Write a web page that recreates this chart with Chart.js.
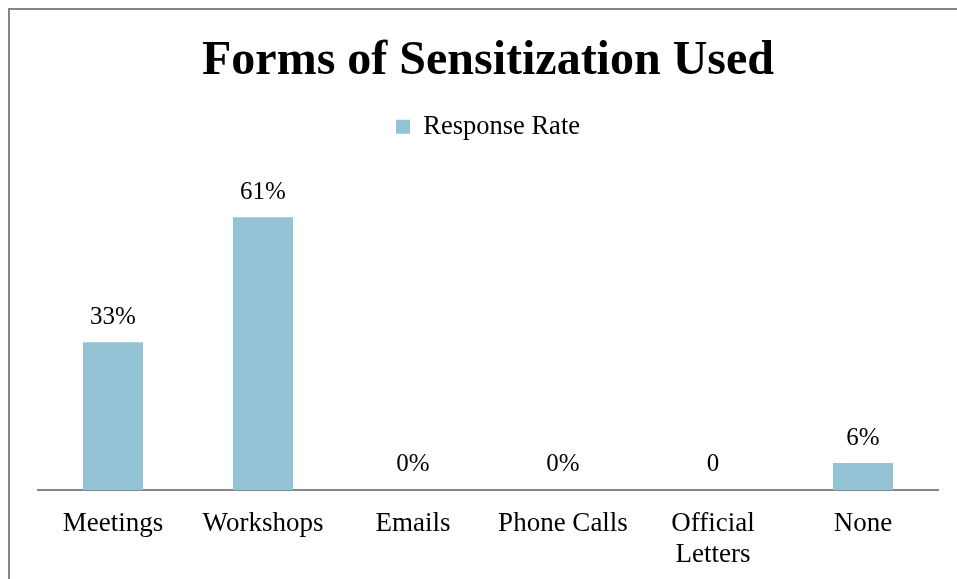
<!DOCTYPE html>
<html lang="en">
<head>
<meta charset="UTF-8">
<title>Forms of Sensitization Used</title>
<style>
  html, body { margin: 0; padding: 0; overflow: hidden; background: #fff; }
  .frame {
    position: absolute;
    left: 8px;
    top: 8px;
    width: 960px;
    height: 600px;
    border-left: 2px solid #878787;
    border-top: 2px solid #878787;
  }
</style>
</head>
<body>
<div class="frame"><canvas id="chart" width="958" height="570"></canvas></div>

<script src="https://cdn.jsdelivr.net/npm/chart.js"></script>
<script>
const categories = ['Meetings', 'Workshops', 'Emails', 'Phone Calls', ['Official', 'Letters'], 'None'];
const responseRate = [33, 61, 0, 0, 0, 6];
const valueLabels = ['33%', '61%', '0%', '0%', '0', '6%'];

const serif = '"Liberation Serif", "Times New Roman", serif';
const barColor = '#93c3d4';

// value text above each bar
const barLabels = {
    id: 'barLabels',
    afterDatasetsDraw(chart) {
        const ctx = chart.ctx;
        const meta = chart.getDatasetMeta(0);
        ctx.save();
        ctx.font = '25px ' + serif;
        ctx.fillStyle = '#000';
        ctx.textAlign = 'center';
        ctx.textBaseline = 'middle';
        meta.data.forEach((bar, i) => {
            ctx.fillText(valueLabels[i], bar.x, bar.y - 25);
        });
        ctx.restore();
    }
};

new Chart(document.getElementById('chart'), {
    type: 'bar',
    data: {
        labels: categories,
        datasets: [{
            label: 'Response Rate',
            data: responseRate,
            backgroundColor: barColor,
            borderWidth: 0,
            barPercentage: 0.4,
            categoryPercentage: 1
        }]
    },
    options: {
        responsive: false,
        animation: false,
        layout: { padding: { left: 28, right: 30, top: 0, bottom: 0 } },
        plugins: {
            title: {
                display: true,
                text: 'Forms of Sensitization Used',
                color: '#000',
                font: { family: serif, size: 48, weight: 'bold', lineHeight: 1.2 },
                padding: { top: 23, bottom: 13 }
            },
            legend: {
                position: 'top',
                labels: {
                    color: '#000',
                    font: { family: serif, size: 26.5 },
                    boxWidth: 14,
                    boxHeight: 14
                }
            },
            tooltip: { enabled: false }
        },
        scales: {
            x: {
                grid: { display: false },
                border: { display: true, color: '#878787', width: 2 },
                ticks: {
                    color: '#000',
                    padding: 10,
                    maxRotation: 0,
                    font: { family: serif, size: 27, lineHeight: 1.15 }
                }
            },
            y: {
                display: false,
                min: 0,
                max: 76
            }
        }
    },
    plugins: [barLabels]
});
</script>
</body>
</html>
